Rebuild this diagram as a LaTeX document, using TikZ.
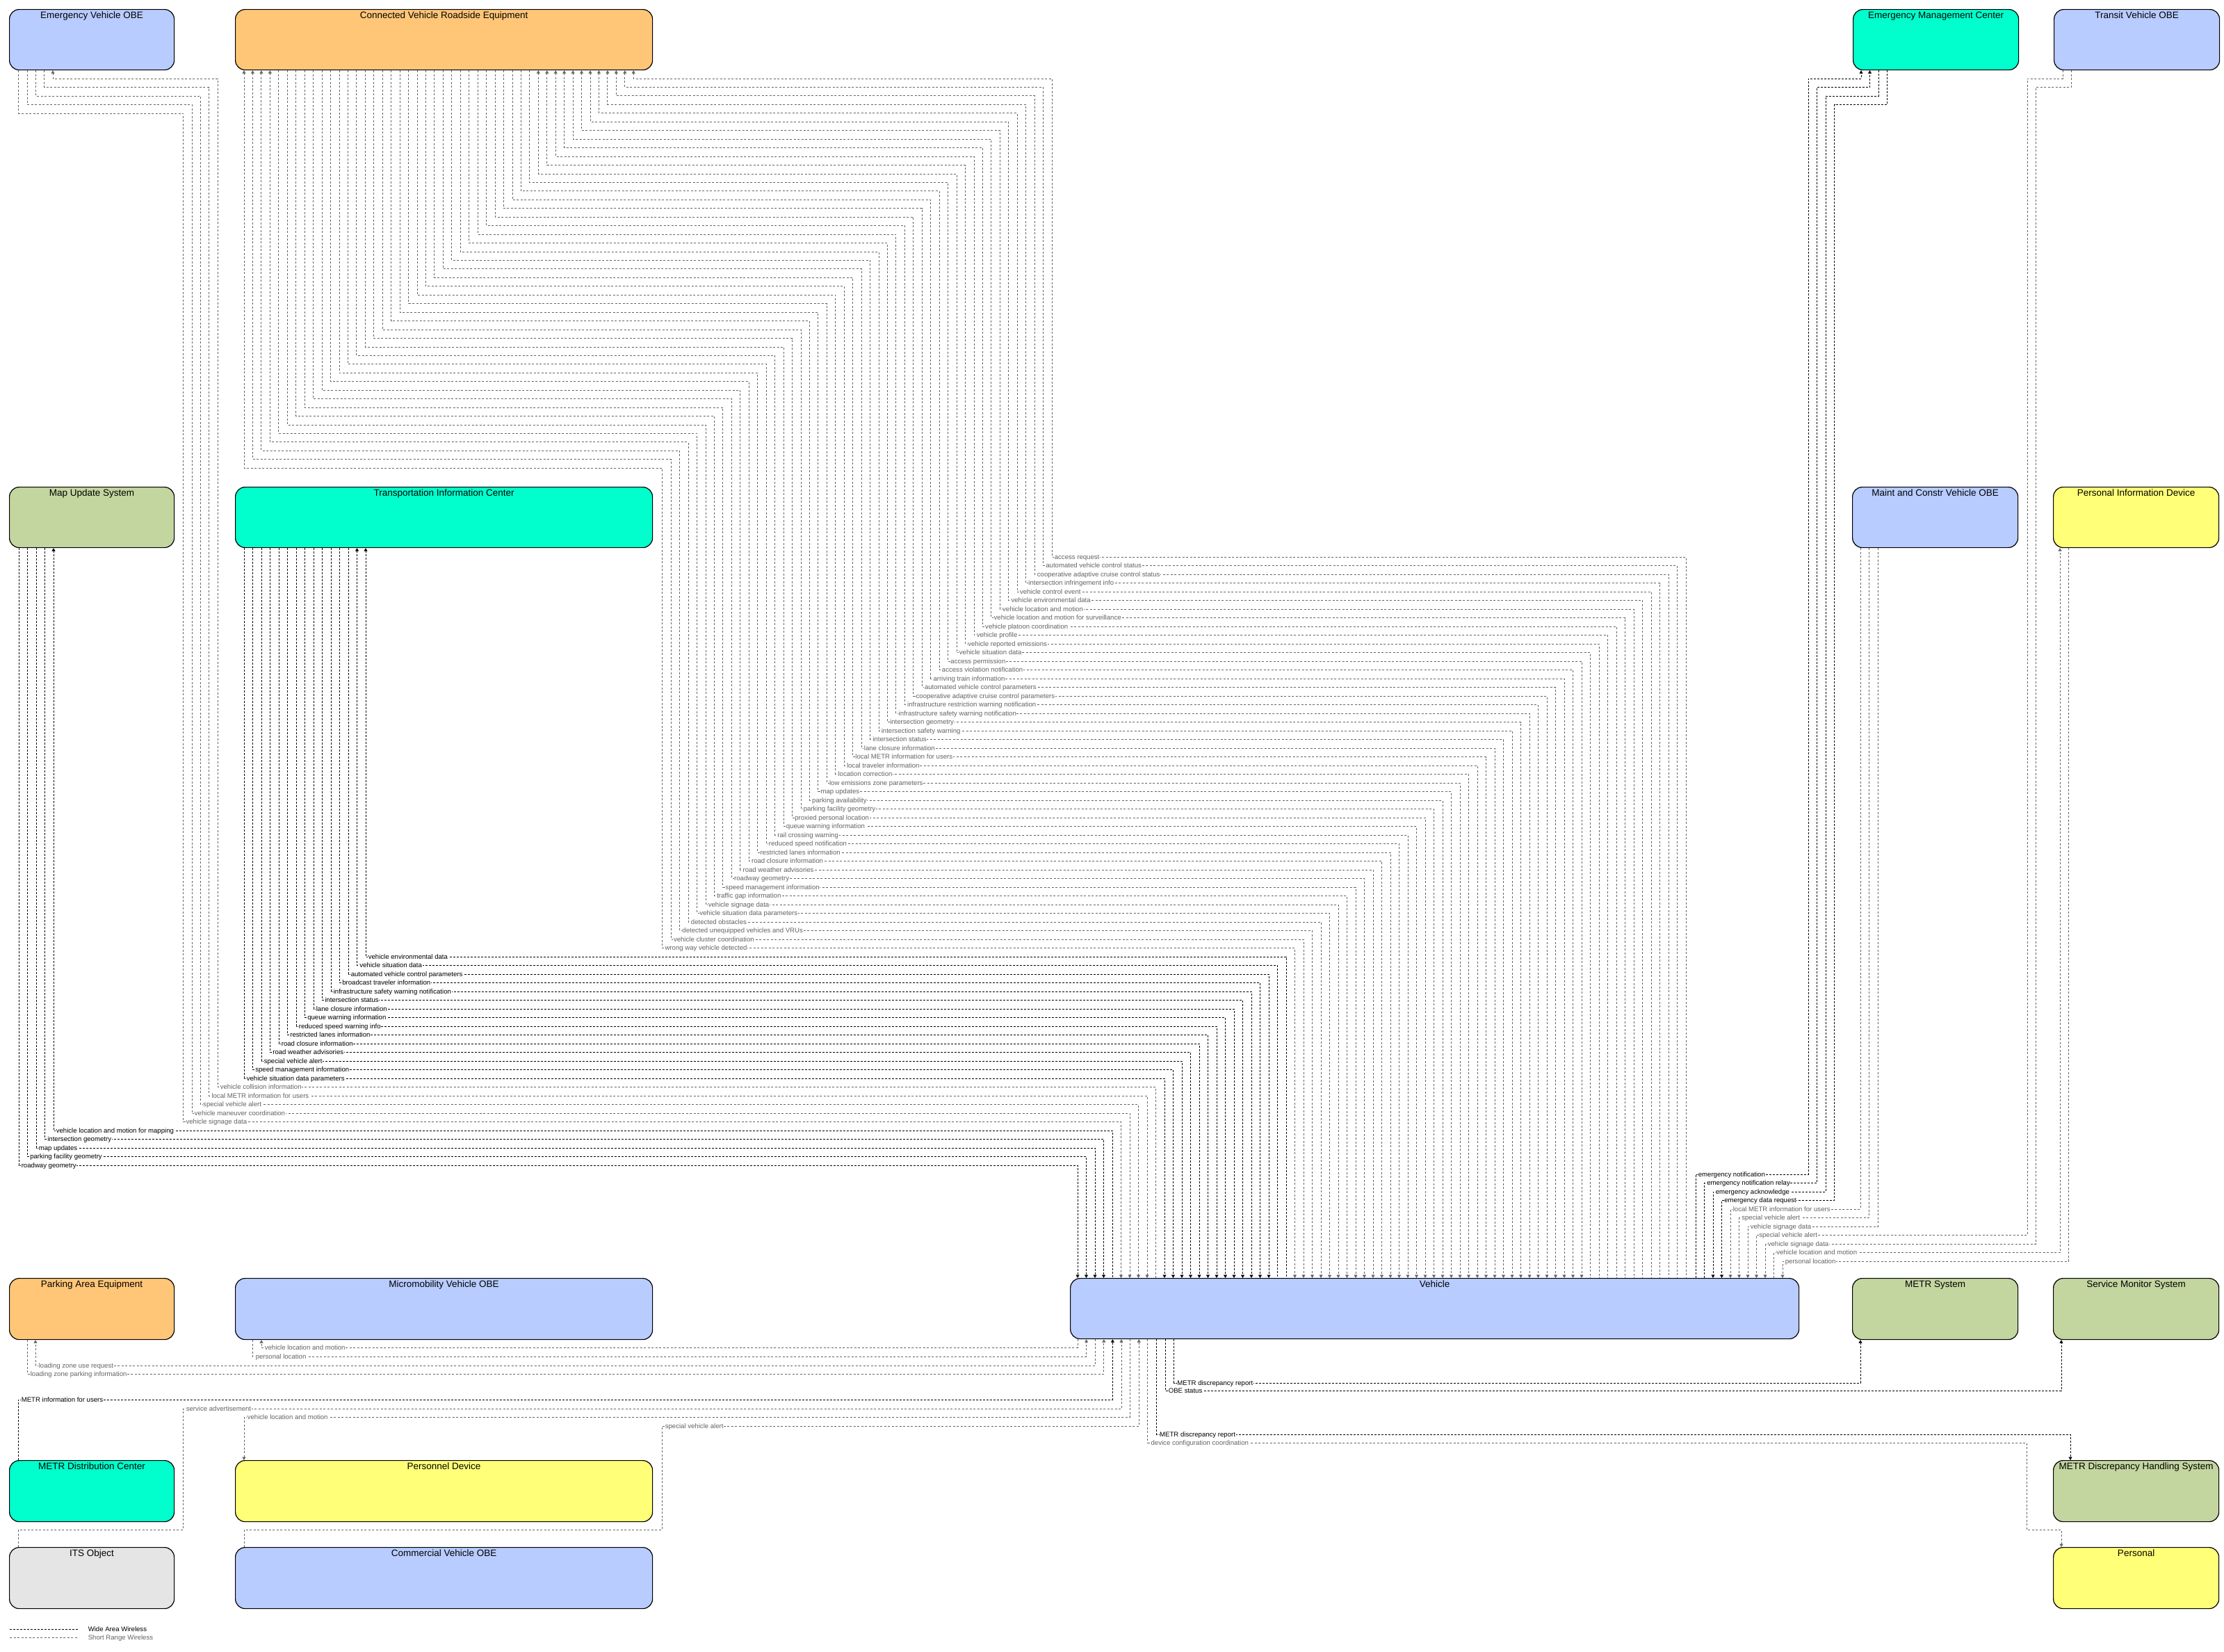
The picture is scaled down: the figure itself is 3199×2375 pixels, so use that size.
\documentclass[tikz,border=0pt]{standalone}
\usepackage{fontspec}
\setmainfont{Liberation Sans}
\usetikzlibrary{arrows.meta}
\definecolor{cblue}{RGB}{184,204,255}
\definecolor{corange}{RGB}{255,198,120}
\definecolor{ccyan}{RGB}{0,255,204}
\definecolor{cgreen}{RGB}{196,214,160}
\definecolor{cyellow}{RGB}{255,255,120}
\definecolor{cgrey}{RGB}{229,229,229}
\definecolor{srcol}{RGB}{100,100,100}
\newcommand\mkbox[7]{%
  \node[box, fill=#2, minimum width=#5pt, minimum height=#6pt] (#1) at (#3,#4) {};
  \node[ttl] at ([yshift=-13.5pt]#1.north) {#7};}
\begin{document}
\begin{tikzpicture}[x=1pt,y=-1pt,
  >={Triangle[width=5pt,length=4.5pt]},
  box/.style={draw=black, line width=1.2pt, rounded corners=14pt, anchor=north west, inner sep=0pt},
  ttl/.style={font=\fontsize{13.5}{15}\selectfont, anchor=base, inner sep=0pt},
  lbl/.style={font=\fontsize{9.6}{10}\selectfont, anchor=base west, inner sep=0.6pt, fill=white},
  wa/.style={draw=black, line width=0.9pt, dash pattern=on 3pt off 2pt},
  sr/.style={draw=srcol, line width=0.9pt, dash pattern=on 3pt off 2.5pt},
  srl/.style={lbl, text=srcol}]
\useasboundingbox (0,0) rectangle (3199,2375);
\fill[white] (0,0) rectangle (3199,2375);
% ---------------- boxes
\mkbox{evobe}{cblue}{13}{13}{237}{87}{Emergency Vehicle OBE}
\mkbox{rse}{corange}{338}{13}{600}{87}{Connected Vehicle Roadside Equipment}
\mkbox{emc}{ccyan}{2665}{13}{238}{87}{Emergency Management Center}
\mkbox{transit}{cblue}{2954}{13}{238}{87}{Transit Vehicle OBE}
\mkbox{mus}{cgreen}{13}{700}{237}{87}{Map Update System}
\mkbox{tic}{ccyan}{338}{700}{600}{87}{Transportation Information Center}
\mkbox{maint}{cblue}{2664}{700}{238}{87}{Maint and Constr Vehicle OBE}
\mkbox{pid}{cyellow}{2953}{700}{238}{87}{Personal Information Device}
\mkbox{pae}{corange}{13}{1838}{237}{88}{Parking Area Equipment}
\mkbox{micro}{cblue}{338}{1838}{600}{88}{Micromobility Vehicle OBE}
\mkbox{veh}{cblue}{1539}{1838}{1048}{87}{Vehicle}
\mkbox{metr}{cgreen}{2664}{1838}{238}{88}{METR System}
\mkbox{sms}{cgreen}{2953}{1838}{238}{88}{Service Monitor System}
\mkbox{mdc}{ccyan}{13}{2100}{237}{88}{METR Distribution Center}
\mkbox{pers}{cyellow}{338}{2100}{600}{88}{Personnel Device}
\mkbox{mdhs}{cgreen}{2953}{2100}{238}{88}{METR Discrepancy Handling System}
\mkbox{its}{cgrey}{13}{2225}{237}{88}{ITS Object}
\mkbox{cvo}{cblue}{338}{2225}{600}{88}{Commercial Vehicle OBE}
\mkbox{personal}{cyellow}{2953}{2225}{238}{88}{Personal}
% ---------------- RSE <-> Vehicle
\foreach \lab [count=\nn from 0] in {access request,automated vehicle control status,cooperative adaptive cruise control status,intersection infringement info,vehicle control event,vehicle environmental data,vehicle location and motion,vehicle location and motion for surveillance,vehicle platoon coordination,vehicle profile,vehicle reported emissions,vehicle situation data,access permission,access violation notification,arriving train information,automated vehicle control parameters,cooperative adaptive cruise control parameters,infrastructure restriction warning notification,infrastructure safety warning notification,intersection geometry,intersection safety warning,intersection status,lane closure information,local METR information for users,local traveler information,location correction,low emissions zone parameters,map updates,parking availability,parking facility geometry,proxied personal location,queue warning information,rail crossing warning,reduced speed notification,restricted lanes information,road closure information,road weather advisories,roadway geometry,speed management information,traffic gap information,vehicle signage data,vehicle situation data parameters,detected obstacles,detected unequipped vehicles and VRUs,vehicle cluster coordination,wrong way vehicle detected}{
  \pgfmathsetmacro\sx{351+12.45*(45-\nn)}
  \pgfmathsetmacro\hy{113+12.45*\nn}
  \pgfmathsetmacro\cx{1513-12.45*\nn}
  \pgfmathsetmacro\ly{801+12.5*\nn}
  \pgfmathsetmacro\vx{1550+12.5*(70-\nn)}
  \pgfmathsetmacro\lx{\cx+3}
  \pgfmathsetmacro\lb{\ly+3}
  \ifnum\nn<12 \tikzset{tipsel/.style={<-}}\else
    \ifnum\nn>41 \tikzset{tipsel/.style={<->}}\else\tikzset{tipsel/.style={->}}\fi\fi
  \draw[sr,tipsel] (\sx,0 |- rse.south) -- (\sx,\hy) -- (\cx,\hy) -- (\cx,\ly) -- (\vx,\ly) -- (\vx,0 |- veh.north);
  \node[srl] at (\lx,\lb) {\lab};
}
% ---------------- TIC <-> Vehicle
\foreach \lab [count=\nn from 46] in {vehicle environmental data,vehicle situation data,automated vehicle control parameters,broadcast traveler information,infrastructure safety warning notification,intersection status,lane closure information,queue warning information,reduced speed warning info,restricted lanes information,road closure information,road weather advisories,special vehicle alert,speed management information,vehicle situation data parameters}{
  \pgfmathsetmacro\sx{351+12.5*(60-\nn)}
  \pgfmathsetmacro\ly{801+12.5*\nn}
  \pgfmathsetmacro\vx{1550+12.5*(70-\nn)}
  \pgfmathsetmacro\lx{\sx+3}
  \pgfmathsetmacro\lb{\ly+3}
  \ifnum\nn<48 \tikzset{tipsel/.style={<-}}\else\tikzset{tipsel/.style={->}}\fi
  \draw[wa,tipsel] (\sx,0 |- tic.south) -- (\sx,\ly) -- (\vx,\ly) -- (\vx,0 |- veh.north);
  \node[lbl] at (\lx,\lb) {\lab};
}
% ---------------- Emergency Vehicle OBE <-> Vehicle
\foreach \lab [count=\nn from 61] in {vehicle collision information,local METR information for users,special vehicle alert,vehicle maneuver coordination,vehicle signage data}{
  \pgfmathsetmacro\sx{76-12.3*(\nn-61)}
  \pgfmathsetmacro\hy{113+12.5*(\nn-61)}
  \pgfmathsetmacro\cx{313-12.3*(\nn-61)}
  \pgfmathsetmacro\ly{801+12.5*\nn}
  \pgfmathsetmacro\vx{1550+12.5*(70-\nn)}
  \pgfmathsetmacro\lx{\cx+3}
  \pgfmathsetmacro\lb{\ly+3}
  \ifnum\nn<62 \tikzset{tipsel/.style={<-}}\else\tikzset{tipsel/.style={->}}\fi
  \draw[sr,tipsel] (\sx,0 |- evobe.south) -- (\sx,\hy) -- (\cx,\hy) -- (\cx,\ly) -- (\vx,\ly) -- (\vx,0 |- veh.north);
  \node[srl] at (\lx,\lb) {\lab};
}
% ---------------- Map Update System <-> Vehicle
\foreach \lab [count=\nn from 66] in {vehicle location and motion for mapping,intersection geometry,map updates,parking facility geometry,roadway geometry}{
  \pgfmathsetmacro\sx{77-12.5*(\nn-66)}
  \pgfmathsetmacro\ly{801+12.5*\nn}
  \pgfmathsetmacro\vx{1550+12.5*(70-\nn)}
  \pgfmathsetmacro\lx{\sx+3}
  \pgfmathsetmacro\lb{\ly+3}
  \ifnum\nn<67 \tikzset{tipsel/.style={<-}}\else\tikzset{tipsel/.style={->}}\fi
  \draw[wa,tipsel] (\sx,0 |- mus.south) -- (\sx,\ly) -- (\vx,\ly) -- (\vx,0 |- veh.north);
  \node[lbl] at (\lx,\lb) {\lab};
}
% ---------------- right group (top of Vehicle)
\draw[wa,->] (2439,0 |- veh.north) -- (2439,1689) -- (2601,1689) -- (2601,113) -- (2677,113) -- (2677,0 |- emc.south);
\node[lbl] at (2442,1692) {emergency notification};
\draw[wa,->] (2451.5,0 |- veh.north) -- (2451.5,1701.5) -- (2613.5,1701.5) -- (2613.5,125.5) -- (2689.5,125.5) -- (2689.5,0 |- emc.south);
\node[lbl] at (2454.5,1704.5) {emergency notification relay};
\draw[wa,->] (2702,0 |- emc.south) -- (2702,138) -- (2626,138) -- (2626,1714) -- (2464,1714) -- (2464,0 |- veh.north);
\node[lbl] at (2467,1717) {emergency acknowledge};
\draw[wa,->] (2714.5,0 |- emc.south) -- (2714.5,150.5) -- (2638.5,150.5) -- (2638.5,1726.5) -- (2476.5,1726.5) -- (2476.5,0 |- veh.north);
\node[lbl] at (2479.5,1729.5) {emergency data request};
\draw[sr,->] (2676,0 |- maint.south) -- (2676,1739) -- (2489,1739) -- (2489,0 |- veh.north);
\node[srl] at (2492,1742) {local METR information for users};
\draw[sr,->] (2688.5,0 |- maint.south) -- (2688.5,1751.5) -- (2501.5,1751.5) -- (2501.5,0 |- veh.north);
\node[srl] at (2504.5,1754.5) {special vehicle alert};
\draw[sr,->] (2701,0 |- maint.south) -- (2701,1764) -- (2514,1764) -- (2514,0 |- veh.north);
\node[srl] at (2517,1767) {vehicle signage data};
\draw[sr,->] (2967,0 |- transit.south) -- (2967,113) -- (2916,113) -- (2916,1776.5) -- (2526.5,1776.5) -- (2526.5,0 |- veh.north);
\node[srl] at (2529.5,1779.5) {special vehicle alert};
\draw[sr,->] (2979.5,0 |- transit.south) -- (2979.5,125.5) -- (2928.5,125.5) -- (2928.5,1789) -- (2539,1789) -- (2539,0 |- veh.north);
\node[srl] at (2542,1792) {vehicle signage data};
\draw[sr,->] (2551.5,0 |- veh.north) -- (2551.5,1801.5) -- (2963,1801.5) -- (2963,0 |- pid.south);
\node[srl] at (2554.5,1804.5) {vehicle location and motion};
\draw[sr,->] (2975.5,0 |- pid.south) -- (2975.5,1814) -- (2564,1814) -- (2564,0 |- veh.north);
\node[srl] at (2567,1817) {personal location};
% ---------------- bottom of Vehicle
\draw[sr,->] (1550,0 |- veh.south) -- (1550,1938) -- (376,1938) -- (376,0 |- micro.south);
\node[srl] at (380,1941) {vehicle location and motion};
\draw[sr,->] (363,0 |- micro.south) -- (363,1951) -- (1562.6,1951) -- (1562.6,0 |- veh.south);
\node[srl] at (367,1954) {personal location};
\draw[sr,->] (1575.2,0 |- veh.south) -- (1575.2,1964) -- (51,1964) -- (51,0 |- pae.south);
\node[srl] at (55,1967) {loading zone use request};
\draw[sr,->] (39,0 |- pae.south) -- (39,1976) -- (1587.8,1976) -- (1587.8,0 |- veh.south);
\node[srl] at (43,1979) {loading zone parking information};
\draw[wa,->] (26,0 |- mdc.north) -- (26,2013) -- (1600.4,2013) -- (1600.4,0 |- veh.south);
\node[lbl] at (30,2016) {METR information for users};
\draw[sr,->] (26,0 |- its.north) -- (26,2200) -- (263,2200) -- (263,2026) -- (1613,2026) -- (1613,0 |- veh.south);
\node[srl] at (267,2029) {service advertisement};
\draw[sr,->] (1625.6,0 |- veh.south) -- (1625.6,2038) -- (351,2038) -- (351,0 |- pers.north);
\node[srl] at (355,2041) {vehicle location and motion};
\draw[sr,->] (351,0 |- cvo.north) -- (351,2200) -- (952,2200) -- (952,2051) -- (1638.2,2051) -- (1638.2,0 |- veh.south);
\node[srl] at (956,2054) {special vehicle alert};
\draw[sr,->] (1650.8,0 |- veh.south) -- (1650.8,2075) -- (2915,2075) -- (2915,2200) -- (2965,2200) -- (2965,0 |- personal.north);
\node[srl] at (1654.8,2078) {device configuration coordination};
\draw[wa,->] (1663.4,0 |- veh.south) -- (1663.4,2063) -- (2978,2063) -- (2978,0 |- mdhs.north);
\node[lbl] at (1667.4,2066) {METR discrepancy report};
\draw[wa,->] (1676,0 |- veh.south) -- (1676,2000) -- (2965,2000) -- (2965,0 |- sms.south);
\node[lbl] at (1680,2003) {OBE status};
\draw[wa,->] (1688.6,0 |- veh.south) -- (1688.6,1989) -- (2676,1989) -- (2676,0 |- metr.south);
\node[lbl] at (1692.6,1992) {METR discrepancy report};
% ---------------- legend
\draw[wa] (14,2343) coordinate (lwa1) -- (112,2343) coordinate (lwa2);
\node[lbl, fill=none] (lgwa) at (126,2346.5) {Wide Area Wireless};
\draw[sr] (14,2355) coordinate (lsr1) -- (112,2355) coordinate (lsr2);
\node[srl, fill=none] (lgsr) at (126,2358.5) {Short Range Wireless};
\end{tikzpicture}
\end{document}
